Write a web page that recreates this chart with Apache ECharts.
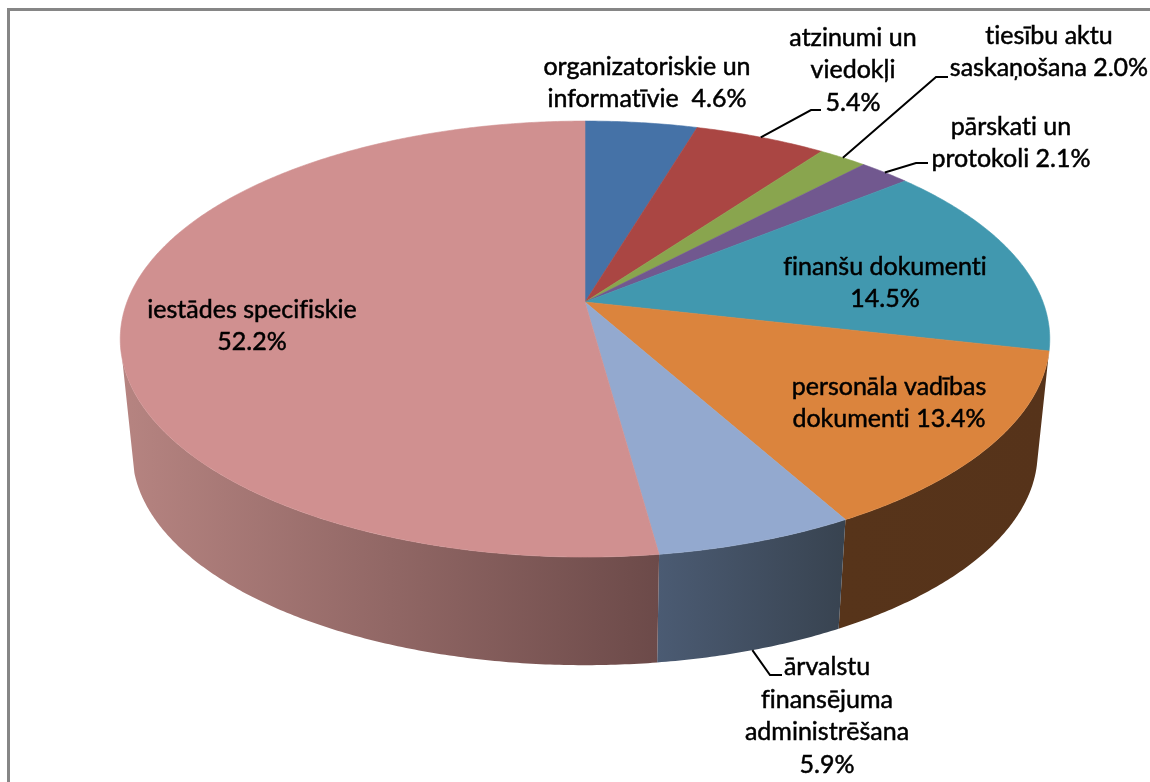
<!DOCTYPE html>
<html>
<head>
<meta charset="utf-8">
<title>Dokumentu sadalījums</title>
<script src="https://cdn.jsdelivr.net/npm/echarts@6/dist/echarts.min.js"></script>
<style>
  html, body { margin: 0; padding: 0; background: #fff; }
  #chart { width: 1150px; height: 782px; }
</style>
</head>
<body>
<div id="chart"></div>
<script>
// data, clockwise from 12 o'clock
const categories = [
  'organizatoriskie un\ninformatīvie  4.6%',
  'atzinumi un\nviedokļi\n5.4%',
  'tiesību aktu\nsaskaņošana 2.0%',
  'pārskati un\nprotokoli 2.1%',
  'finanšu dokumenti\n14.5%',
  'personāla vadības\ndokumenti 13.4%',
  'ārvalstu\nfinansējuma\nadministrēšana\n5.9%',
  'iestādes specifiskie\n52.2%'
];
const values = [4.6, 5.4, 2.0, 2.1, 14.5, 13.4, 5.9, 52.2];

// colours
const topColors = ['#4572A7', '#AA4643', '#89A54E', '#71588F', '#4198AF', '#DB843D', '#93A9CF', '#D09090'];
const wallFrom = ['#2b4568', '#682b29', '#54652f', '#453657', '#27606c', '#57341a', '#4b5b73', '#b68481'];
const wallTo = ['#2b4568', '#682b29', '#54652f', '#453657', '#27606c', '#56331a', '#384350', '#6c4a49'];

// label centres and leader elbows (px)
const labelPos = [[647, 83], [853, 70], [1049, 52], [1011, 143], [885, 283], [889, 403], [827, 716], [252, 326]];
const leaderElbow = [null, [[811, 110], [821, 110]], [[936, 77], [948, 77]], [[916, 163], [928, 163]], null, null, [[770, 675], [782, 675]], null];

// perspective of the 3d disc
const cx = 585;
const persp = 0.17;
const topFace = { a: 458, b: 211.7, y: 302 };
const bottomFace = { a: 446, b: 206, y: 417 };
const visibleWall = [103, 255]; // degrees where the side is seen

const total = values.reduce((s, v) => s + v, 0);
let acc = 0;
const rows = values.map((v, i) => {
  const start = acc / total * 360;
  acc += v;
  return [start, acc / total * 360, i];
});

function project(face, deg) {
  const t = deg * Math.PI / 180;
  const w = 1 + persp * Math.cos(t);
  return [cx + face.a * Math.sin(t) / w, face.y - face.b * Math.cos(t) / w];
}

function arc(face, from, to) {
  const pts = [];
  const n = Math.max(2, Math.ceil(Math.abs(to - from) * 2));
  for (let i = 0; i <= n; i++) pts.push(project(face, from + (to - from) * i / n));
  return pts;
}

const chart = echarts.init(document.getElementById('chart'));

const option = {
  animation: false,
  backgroundColor: '#fff',
  graphic: [{
    type: 'polyline',
    silent: true,
    shape: { points: [[8.5, 782], [8.5, 9.5], [1150, 9.5]] },
    style: { stroke: '#868686', lineWidth: 3, fill: 'none' }
  }],
  series: [
    {
      // side wall
      type: 'custom',
      coordinateSystem: 'none',
      z: 1,
      silent: true,
      data: rows,
      renderItem: (params, api) => {
        const from = Math.max(api.value(0), visibleWall[0]);
        const to = Math.min(api.value(1), visibleWall[1]);
        if (from >= to) return null;
        const i = api.value(2);
        const pts = arc(topFace, from, to).concat(arc(bottomFace, to, from));
        const fill = new echarts.graphic.LinearGradient(0, 0, 1, 0, [
          { offset: 0, color: wallFrom[i] },
          { offset: 1, color: wallTo[i] }
        ]);
        return { type: 'polygon', shape: { points: pts }, style: { fill: fill } };
      }
    },
    {
      // top face
      type: 'custom',
      coordinateSystem: 'none',
      z: 2,
      silent: true,
      data: rows,
      renderItem: (params, api) => {
        const i = api.value(2);
        const pts = [[cx, topFace.y]].concat(arc(topFace, api.value(0), api.value(1)));
        return {
          type: 'polygon',
          shape: { points: pts },
          style: { fill: topColors[i], stroke: topColors[i], lineWidth: 0.6 }
        };
      }
    },
    {
      // labels + leader lines
      type: 'custom',
      coordinateSystem: 'none',
      z: 3,
      silent: true,
      data: rows,
      renderItem: (params, api) => {
        const i = api.value(2);
        const children = [{
          type: 'text',
          style: {
            text: categories[i],
            x: labelPos[i][0],
            y: labelPos[i][1],
            align: 'center',
            verticalAlign: 'middle',
            fontFamily: 'Lato',
            fontSize: 25,
            lineHeight: 32.5,
            fill: '#000',
            stroke: '#000',
            lineWidth: 0.5
          }
        }];
        if (leaderElbow[i]) {
          const mid = (api.value(0) + api.value(1)) / 2;
          const inFront = mid > visibleWall[0] && mid < visibleWall[1];
          const start = project(inFront ? bottomFace : topFace, mid);
          children.push({
            type: 'polyline',
            shape: { points: [start].concat(leaderElbow[i]) },
            style: { stroke: '#000', lineWidth: 2, fill: 'none' }
          });
        }
        return { type: 'group', children: children };
      }
    }
  ]
};

chart.setOption(option);

// the original has no fi ligature: layers exist after the first paint, so switch it off and draw again
const zr = chart.getZr();
zr.refreshImmediately();
chart.getDom().querySelectorAll('canvas').forEach((cv) => {
  cv.getContext('2d').textRendering = 'optimizeSpeed';
});
chart.setOption(option, true);
zr.refreshImmediately();
</script>
</body>
</html>
